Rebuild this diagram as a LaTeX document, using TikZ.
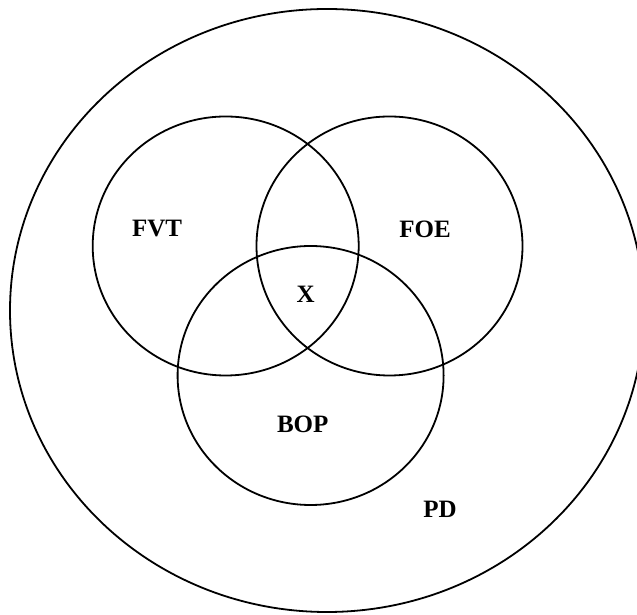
\documentclass[tikz,border=0pt]{standalone}
\usepackage{fontspec}
\setmainfont{Liberation Serif}
\begin{document}
\begin{tikzpicture}[x=1pt,y=1pt,
  ring/.style={draw=black,line width=1.8pt},
  lbl/.style={font=\fontsize{25}{30}\selectfont\bfseries,inner sep=0pt}]
\useasboundingbox (0,0) rectangle (637,615);
\clip (0,0) rectangle (637,615);
\fill[white] (0,0) rectangle (637,615);
% outer set PD
\draw[ring] (327,304.5) ellipse [x radius=317, y radius=301.5];
% three inner sets
\draw[ring] (225.7,369) ellipse [x radius=133, y radius=129.5];
\draw[ring] (389.5,369) ellipse [x radius=133, y radius=129.5];
\draw[ring] (310.6,239.5) ellipse [x radius=133, y radius=129.5];
% labels
\node[lbl] (fvt) at (157,386) {FVT};
\node[lbl] (foe) at (425,386) {FOE};
\node[lbl] (x) at (305.7,321) {X};
\node[lbl] (bop) at (302.7,191) {BOP};
\node[lbl] (pd) at (440,106) {PD};
\end{tikzpicture}
\end{document}
